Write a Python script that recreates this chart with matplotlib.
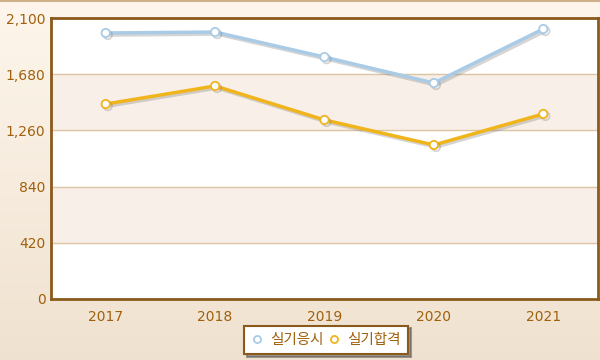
import numpy as np
import matplotlib.pyplot as plt
import matplotlib.patheffects as pe

plt.rcParams['font.family'] = ['DejaVu Sans', 'Noto Sans CJK KR']

years = ['2017', '2018', '2019', '2020', '2021']
applied = [1988, 1995, 1808, 1614, 2018]
passed = [1457, 1592, 1338, 1151, 1383]
names = ['실기응시', '실기합격']

fig = plt.figure(figsize=(6, 3.6), dpi=100)

# page background gradient
bg = fig.add_axes([0, 0, 1, 1], zorder=-10)
grad = np.linspace(0, 1, 256).reshape(-1, 1)
top = np.array([0.995, 0.965, 0.925])
bot = np.array([0.94, 0.885, 0.815])
img = top + (bot - top) * grad[:, :, None]
bg.imshow(img, aspect='auto', extent=[0, 1, 0, 1])
bg.axhline(0.996, color='#cfb08a', lw=1.5)
bg.set_xlim(0, 1)
bg.set_ylim(0, 1)
bg.axis('off')

ax = fig.add_axes([51/600, 1 - 299/360, 547/600, 281/360])
ax.set_facecolor('white')
x = np.arange(len(years))
ax.set_xlim(-0.5, 4.5)
ax.set_ylim(0, 2100)
ticks = np.arange(0, 2101, 420)
for i in range(len(ticks) - 1):
    if i % 2 == 1:
        ax.axhspan(ticks[i], ticks[i+1], color='#f8f0e8', zorder=0)
for t in ticks[1:-1]:
    ax.axhline(t, color='#dcc4a4', lw=1, zorder=1)

shadow = [pe.SimpleLineShadow(offset=(1.5, -1.5), shadow_color='#777777', alpha=0.3), pe.Normal()]
ax.plot(x, applied, color='#a9cbe6', lw=2.5, marker='o', ms=6, mfc='white',
        mec='#a9cbe6', mew=1.3, label=names[0], zorder=3, path_effects=shadow)
ax.plot(x, passed, color='#f0b41c', lw=2.5, marker='o', ms=6, mfc='white',
        mec='#f0b41c', mew=1.3, label=names[1], zorder=3, path_effects=shadow)

ax.set_xticks(x)
ax.set_xticklabels(years)
ax.set_yticks(ticks)
ax.set_yticklabels([f'{t:,}' for t in ticks])
ax.tick_params(colors='#a0600c', labelsize=10, length=0, pad=4)
ax.tick_params(axis='x', pad=8)
for s in ax.spines.values():
    s.set_color('#8a5a1c')
    s.set_linewidth(2)

leg = fig.legend(loc='center', bbox_to_anchor=(326/600, 1 - 340/360), ncol=2,
                 frameon=True, fancybox=False, shadow=True,
                 handlelength=0.8, handletextpad=0.5, columnspacing=0.3,
                 borderpad=0.5, borderaxespad=0, markerscale=0.85,
                 prop={'family': ['Noto Sans CJK KR', 'DejaVu Sans'], 'size': 10.5})
leg.get_frame().set_edgecolor('#8a5a1c')
leg.get_frame().set_linewidth(1.5)
for h in leg.get_lines():
    h.set_linestyle('none')
    h.set_path_effects([])
for t in leg.get_texts():
    t.set_color('#a0600c')

fig.savefig('out.png', dpi=100)
